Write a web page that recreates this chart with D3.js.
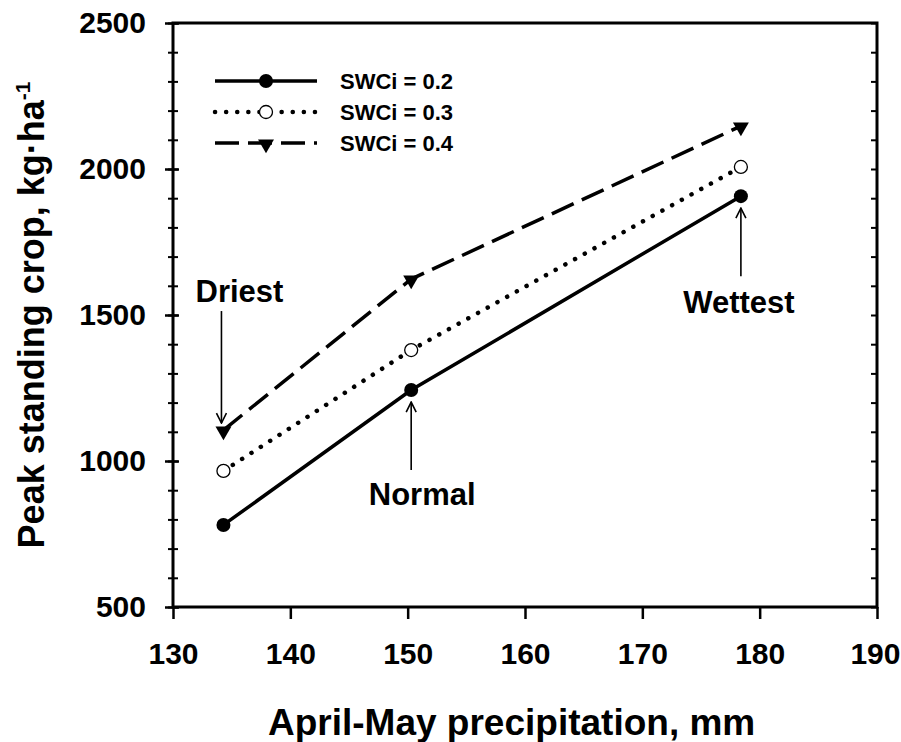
<!DOCTYPE html>
<html><head><meta charset="utf-8">
<script src="https://cdn.jsdelivr.net/npm/d3@7"></script>
<style>body{margin:0;background:#fff}svg{display:block}text{font-family:"Liberation Sans",Arial,sans-serif;font-weight:bold}</style>
</head><body><div id="chart"></div>
<script>
const precipitation = [134.3, 150.3, 178.4];
const swc02 = [781, 1243, 1907];
const swc03 = [966, 1380, 2007];
const swc04 = [1106, 1623, 2147];
const seriesNames = ["SWCi = 0.2", "SWCi = 0.3", "SWCi = 0.4"];
const xTicks = [130, 140, 150, 160, 170, 180, 190];
const yTicks = [500, 1000, 1500, 2000, 2500];
const annotations = [
  {label: "Driest", idx: 0, series: 2, dir: "down"},
  {label: "Normal", idx: 1, series: 0, dir: "up"},
  {label: "Wettest", idx: 2, series: 0, dir: "up"}
];

const W = 901, H = 742;
const m = {l: 173, r: 877, t: 23, b: 607};
const svg = d3.select("#chart").append("svg").attr("width", W).attr("height", H);
const x = d3.scaleLinear().domain([130, 190]).range([m.l, m.r]);
const y = d3.scaleLinear().domain([500, 2500]).range([m.b, m.t]);

const defs = svg.append("defs");
defs.append("marker").attr("id","ah").attr("viewBox","0 0 12 12").attr("refX",11).attr("refY",6)
  .attr("markerWidth",12).attr("markerHeight",12).attr("markerUnits","userSpaceOnUse").attr("orient","auto")
  .append("path").attr("d","M1,1 L11,6 L1,11").attr("fill","none").attr("stroke","#000").attr("stroke-width",1.6);

const fontTicks = g => g.selectAll("text").attr("font-size",30).attr("font-family","Liberation Sans, Arial").attr("font-weight","bold").attr("fill","#000");

// axes
const minor = d3.range(500, 2501, 100);
svg.append("g").attr("transform",`translate(${m.l},0)`)
  .call(d3.axisLeft(y).tickValues(minor).tickSize(5).tickFormat(""))
  .call(g=>g.select(".domain").remove())
  .call(g=>g.selectAll("line").attr("x2",-5).attr("x1",5).attr("stroke-width",2));
svg.append("g").attr("transform",`translate(${m.l},0)`)
  .call(d3.axisLeft(y).tickValues(yTicks).tickSize(8).tickPadding(19).tickFormat(d3.format("d")))
  .call(g=>g.select(".domain").remove())
  .call(g=>g.selectAll("line").attr("x1",6).attr("stroke-width",2.5))
  .call(fontTicks);
svg.append("g").attr("transform",`translate(${m.r},0)`)
  .call(d3.axisLeft(y).tickValues(minor).tickSize(6).tickFormat(""))
  .call(g=>g.select(".domain").remove())
  .call(g=>g.selectAll("line").attr("stroke-width",2));
svg.append("g").attr("transform",`translate(0,${m.b})`)
  .call(d3.axisBottom(x).tickValues(xTicks).tickSize(12).tickPadding(24).tickFormat(d3.format("d")))
  .call(g=>g.select(".domain").remove())
  .call(g=>g.selectAll("line").attr("stroke-width",2.5))
  .call(fontTicks)
  .call(g=>g.selectAll("text").filter(d=>d===190).attr("text-anchor","end").attr("dx",23));
svg.append("rect").attr("x",m.l).attr("y",m.t).attr("width",m.r-m.l).attr("height",m.b-m.t)
  .attr("fill","none").attr("stroke","#000").attr("stroke-width",3);

// titles
svg.append("text").attr("x",268).attr("y",735).attr("text-anchor","start").attr("font-size",37).text("April-May precipitation, mm");
const yt = svg.append("text").attr("transform",`translate(44,${(m.t+m.b)/2}) rotate(-90)`).attr("text-anchor","middle").attr("font-size",36);
yt.append("tspan").text("Peak standing crop, kg·ha");
yt.append("tspan").attr("dy",-14).attr("font-size",21).text("-1");

// series
const styles = [
  {vals: swc02, dash: null, cap: "butt", marker: "filled", w: 3.5},
  {vals: swc03, dash: "0.1 11", cap: "round", marker: "open", w: 4.5},
  {vals: swc04, dash: "24 9", cap: "butt", marker: "tri", w: 3.5}
];
const line = d3.line().x((d,i)=>x(precipitation[i])).y(d=>y(d));
function drawMarker(g, type, cx, cy){
  if(type==="filled") g.append("circle").attr("cx",cx).attr("cy",cy).attr("r",7).attr("fill","#000");
  else if(type==="open") g.append("circle").attr("cx",cx).attr("cy",cy).attr("r",6.5).attr("fill","#fff").attr("stroke","#000").attr("stroke-width",1.3);
  else g.append("path").attr("d",d3.symbol(d3.symbolTriangle,110)()).attr("transform",`translate(${cx},${cy+1}) rotate(180)`).attr("fill","#000");
}
styles.forEach(s=>{
  svg.append("path").datum(s.vals).attr("d",line).attr("fill","none").attr("stroke","#000")
    .attr("stroke-width", s.w).attr("stroke-dasharray",s.dash).attr("stroke-linecap",s.cap);
  const g = svg.append("g");
  s.vals.forEach((v,i)=>drawMarker(g, s.marker, x(precipitation[i]), y(v)));
});

// legend
styles.forEach((s,i)=>{
  const ly = 81 + i*31;
  svg.append("line").attr("x1",215).attr("x2",317).attr("y1",ly).attr("y2",ly).attr("stroke","#000")
    .attr("stroke-width", s.w).attr("stroke-dasharray",s.dash).attr("stroke-linecap",s.cap);
  drawMarker(svg, s.marker, 266, ly);
  svg.append("text").attr("x",340).attr("y",ly+8).attr("font-size",22).text(seriesNames[i]);
});

// annotations
const seriesVals = [swc02, swc03, swc04];
annotations.forEach(a=>{
  const px = x(precipitation[a.idx]);
  const py = y(seriesVals[a.series][a.idx]);
  if(a.dir==="down"){
    svg.append("line").attr("x1",px-2).attr("x2",px-2).attr("y1",py-119).attr("y2",py-7).attr("stroke","#000").attr("stroke-width",1.6).attr("marker-end","url(#ah)");
    svg.append("text").attr("x",px+16).attr("y",py-128).attr("text-anchor","middle").attr("font-size",31).text(a.label);
  } else {
    svg.append("line").attr("x1",px).attr("x2",px).attr("y1",py+80).attr("y2",py+12).attr("stroke","#000").attr("stroke-width",1.6).attr("marker-end","url(#ah)");
    svg.append("text").attr("x",px+(a.label==="Wettest"?-2:11)).attr("y",py+(a.label==="Wettest"?117:115)).attr("text-anchor","middle").attr("font-size",31).text(a.label);
  }
});
</script></body></html>
